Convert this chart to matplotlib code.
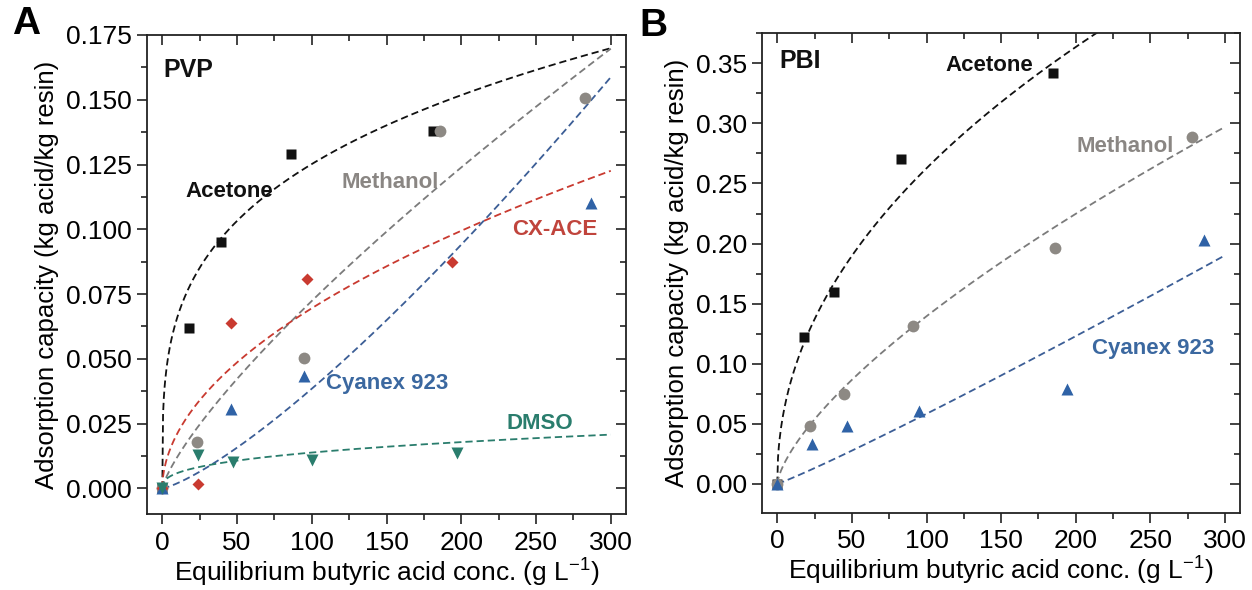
import numpy as np
import matplotlib
matplotlib.use("Agg")
import matplotlib.pyplot as plt
from matplotlib.ticker import MultipleLocator, FormatStrFormatter

plt.rcParams['font.family'] = ['Liberation Sans', 'DejaVu Sans']
plt.rcParams['mathtext.fontset'] = 'custom'
plt.rcParams['mathtext.rm'] = 'Liberation Sans'
plt.rcParams['mathtext.it'] = 'Liberation Sans:italic'

# ---------------- data: panel A (PVP) ----------------
a_acetone_x = [0, 18, 39, 86, 181]
a_acetone_y = [0.0, 0.062, 0.095, 0.129, 0.138]
a_methanol_x = [0, 23, 95, 186, 283]
a_methanol_y = [0.0, 0.018, 0.0505, 0.138, 0.1505]
a_cxace_x = [0, 24, 46, 97, 194]
a_cxace_y = [0.0, 0.0017, 0.0637, 0.0808, 0.0873]
a_cyanex_x = [0, 46, 95, 287]
a_cyanex_y = [0.0, 0.0307, 0.0433, 0.110]
a_dmso_x = [0, 24, 47, 100, 197]
a_dmso_y = [0.0, 0.0128, 0.0101, 0.0109, 0.0137]

# Freundlich fit parameters (q = K * c^n)
a_fit_acetone = (0.0348, 0.278)
a_fit_methanol = (0.00203, 0.776)
a_fit_cxace = (0.00646, 0.516)
a_fit_cyanex = (1.012e-4, 1.29)
a_fit_dmso = (0.00253, 0.369)

# ---------------- data: panel B (PBI) ----------------
b_acetone_x = [0, 18, 38, 83, 185]
b_acetone_y = [0.0, 0.1225, 0.160, 0.270, 0.342]
b_methanol_x = [0, 22, 45, 91, 186, 278]
b_methanol_y = [0.0, 0.048, 0.0746, 0.1314, 0.196, 0.2888]
b_cyanex_x = [0, 23, 47, 95, 194, 286]
b_cyanex_y = [0.0, 0.033, 0.048, 0.061, 0.079, 0.203]

b_fit_acetone = (0.0303, 0.469)
b_fit_methanol = (0.00587, 0.688)
b_fit_cyanex = (4.11e-4, 1.076)

x_ticks = [0, 50, 100, 150, 200, 250, 300]
a_y_ticks = [0.000, 0.025, 0.050, 0.075, 0.100, 0.125, 0.150, 0.175]
b_y_ticks = [0.00, 0.05, 0.10, 0.15, 0.20, 0.25, 0.30, 0.35]

# ---------------- colours ----------------
C_BLACK = '#111111'
C_GRAY_M = '#8d8984'
C_GRAY_L = '#7b7b7b'
C_GRAY_T = '#8a8683'
C_RED = '#c93a30'
C_RED_T = '#c0443c'
C_BLUE = '#2f62a6'
C_BLUE_L = '#3c5e96'
C_BLUE_T = '#3b68a0'
C_TEAL = '#2a7d6d'

DASH = (0, (4.0, 2.2))

fig = plt.figure(figsize=(12.52, 5.90), dpi=100)
axA = fig.add_axes([0.1177, 0.1283, 0.3821, 0.8124])
axB = fig.add_axes([0.6089, 0.1310, 0.3815, 0.8126])

xfit = np.linspace(0, 300, 600)


def fit_line(ax, params, color):
    K, n = params
    ax.plot(xfit, K * xfit ** n, linestyle=DASH, color=color, lw=1.3, zorder=2)


def style(ax, ylim, yticks, yminor, fmt):
    ax.set_xlim(-10, 310)
    ax.set_ylim(*ylim)
    ax.set_xticks(x_ticks)
    ax.xaxis.set_minor_locator(MultipleLocator(25))
    ax.set_yticks(yticks)
    ax.yaxis.set_minor_locator(MultipleLocator(yminor))
    ax.yaxis.set_major_formatter(FormatStrFormatter(fmt))
    for s in ax.spines.values():
        s.set_linewidth(1.3)
        s.set_color('#222222')
    ax.tick_params(which='both', bottom=True, left=True, top=False, right=False,
                   direction='out', width=1.2, color='#222222')
    ax.tick_params(which='major', length=7, labelsize=19, pad=4)
    ax.tick_params(which='minor', length=4)
    ax.tick_params(axis='x', which='major', pad=5)
    # mirrored ticks on top / right pointing inward
    sec_x = ax.secondary_xaxis('top')
    sec_x.set_xticks(x_ticks)
    sec_x.xaxis.set_minor_locator(MultipleLocator(25))
    sec_x.tick_params(which='both', direction='in', width=1.2, color='#222222', labeltop=False)
    sec_x.tick_params(which='major', length=7)
    sec_x.tick_params(which='minor', length=4)
    sec_x.spines['top'].set_visible(False)
    sec_y = ax.secondary_yaxis('right')
    sec_y.set_yticks(yticks)
    sec_y.yaxis.set_minor_locator(MultipleLocator(yminor))
    sec_y.tick_params(which='both', direction='in', width=1.2, color='#222222', labelright=False)
    sec_y.tick_params(which='major', length=7)
    sec_y.tick_params(which='minor', length=4)
    sec_y.spines['right'].set_visible(False)
    ax.set_xlabel('Equilibrium butyric acid conc. (g L$^{-1}$)', fontsize=19, labelpad=1)
    ax.set_ylabel('Adsorption capacity (kg acid/kg resin)', fontsize=18.5, labelpad=5)


# ---------------- panel A ----------------
fit_line(axA, a_fit_acetone, C_BLACK)
fit_line(axA, a_fit_methanol, C_GRAY_L)
fit_line(axA, a_fit_cxace, C_RED)
fit_line(axA, a_fit_cyanex, C_BLUE_L)
fit_line(axA, a_fit_dmso, C_TEAL)

axA.plot(a_acetone_x, a_acetone_y, 's', color=C_BLACK, ms=7.5, mec='none', zorder=3)
axA.plot(a_methanol_x, a_methanol_y, 'o', color=C_GRAY_M, ms=8.5, mec='none', zorder=3)
axA.plot(a_cxace_x, a_cxace_y, 'D', color=C_RED, ms=6.5, mec='none', zorder=3)
axA.plot(a_cyanex_x, a_cyanex_y, '^', color=C_BLUE, ms=8.5, mec='none', zorder=3)
axA.plot(a_dmso_x, a_dmso_y, 'v', color=C_TEAL, ms=8.5, mec='none', zorder=3)

style(axA, (-0.010, 0.175), a_y_ticks, 0.0125, '%.3f')

lbl = dict(fontsize=16, fontweight='bold', ha='left', va='center')
axA.text(0.5, 0.1615, 'PVP', color=C_BLACK, **{**lbl, 'fontsize': 18})
axA.text(15.5, 0.1147, 'Acetone', color=C_BLACK, **lbl)
axA.text(120, 0.1179, 'Methanol', color=C_GRAY_T, **lbl)
axA.text(234, 0.1000, 'CX-ACE', color=C_RED_T, **lbl)
axA.text(109.5, 0.0405, 'Cyanex 923', color=C_BLUE_T, **lbl)
axA.text(230, 0.0250, 'DMSO', color=C_TEAL, **lbl)

# ---------------- panel B ----------------
fit_line(axB, b_fit_acetone, C_BLACK)
fit_line(axB, b_fit_methanol, C_GRAY_L)
fit_line(axB, b_fit_cyanex, C_BLUE_L)

axB.plot(b_acetone_x, b_acetone_y, 's', color=C_BLACK, ms=7.5, mec='none', zorder=3)
axB.plot(b_methanol_x, b_methanol_y, 'o', color=C_GRAY_M, ms=8.5, mec='none', zorder=3)
axB.plot(b_cyanex_x, b_cyanex_y, '^', color=C_BLUE, ms=8.5, mec='none', zorder=3)

style(axB, (-0.024, 0.375), b_y_ticks, 0.025, '%.2f')

axB.text(1.3, 0.3522, 'PBI', color=C_BLACK, **{**lbl, 'fontsize': 18})
axB.text(113, 0.348, 'Acetone', color=C_BLACK, **lbl)
axB.text(200.5, 0.281, 'Methanol', color=C_GRAY_T, **lbl)
axB.text(211, 0.1126, 'Cyanex 923', color=C_BLUE_T, **lbl)

# panel letters
fig.text(26 / 1252, 1 - 24 / 590, 'A', fontsize=28, fontweight='bold', ha='center', va='center')
fig.text(653 / 1252, 1 - 26 / 590, 'B', fontsize=28, fontweight='bold', ha='center', va='center')

fig.savefig('out.png', dpi=100)
